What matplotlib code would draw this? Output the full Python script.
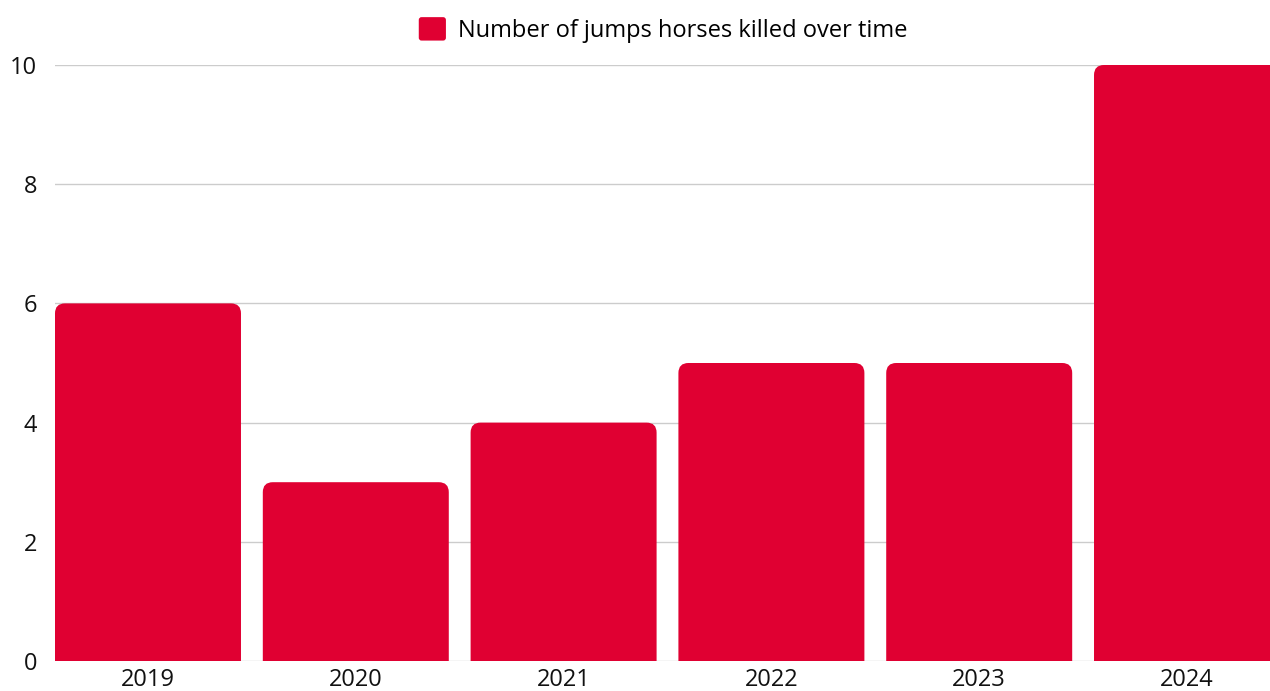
import matplotlib.pyplot as plt
from matplotlib.path import Path
from matplotlib.patches import PathPatch, FancyBboxPatch
from matplotlib.legend_handler import HandlerPatch
import numpy as np

plt.rcParams['font.family'] = ['Open Sans', 'DejaVu Sans']

# Data
years = ['2019', '2020', '2021', '2022', '2023', '2024']
deaths = [6, 3, 4, 5, 5, 10]
label = 'Number of jumps horses killed over time'

red = '#E00032'
bar_w = 0.895

# axes run a little past the right edge of the figure, so the last bar is clipped
fig = plt.figure(figsize=(12.7, 6.91), dpi=100)
ax = fig.add_axes([55 / 1270, 30 / 691, 1225 / 1270, (661 - 65) / 691])
ax.set_xlim(-bar_w / 2, len(years) - 1 + bar_w / 2)
ax.set_ylim(0, 10)

# corner radius in pixels -> data units
fig.canvas.draw()
bbox = ax.get_window_extent()
rx = 10 * (ax.get_xlim()[1] - ax.get_xlim()[0]) / bbox.width
ry = 10 * 10 / bbox.height


def rounded_bar(x0, w, h):
    x1 = x0 + w
    verts = [(x0, 0), (x0, h - ry), (x0, h), (x0 + rx, h),
             (x1 - rx, h), (x1, h), (x1, h - ry), (x1, 0), (x0, 0)]
    codes = [Path.MOVETO, Path.LINETO, Path.CURVE3, Path.CURVE3,
             Path.LINETO, Path.CURVE3, Path.CURVE3, Path.LINETO, Path.CLOSEPOLY]
    return Path(verts, codes)


xs = np.arange(len(years))
for x, v in zip(xs, deaths):
    ax.add_patch(PathPatch(rounded_bar(x - bar_w / 2, bar_w, v),
                           facecolor=red, edgecolor='none', zorder=3))

ax.set_yticks(range(0, 11, 2))
ax.set_xticks(xs)
ax.set_xticklabels(years)
ax.grid(axis='y', color='#cccccc', linewidth=1, zorder=0)
ax.set_axisbelow(True)
for s in ax.spines.values():
    s.set_visible(False)
ax.tick_params(axis='both', length=0, labelsize=17, colors='#111111')
ax.tick_params(axis='y', pad=13)
ax.tick_params(axis='x', pad=5)


class HandlerRound(HandlerPatch):
    def create_artists(self, legend, orig_handle, xdescent, ydescent,
                       width, height, fontsize, trans):
        p = FancyBboxPatch((-xdescent, -ydescent), width, height,
                           boxstyle='round,pad=0,rounding_size=2',
                           facecolor=red, edgecolor='none', transform=trans)
        return [p]


handle = FancyBboxPatch((0, 0), 1, 1, facecolor=red)
fig.legend([handle], [label], loc='center', bbox_to_anchor=(663 / 1270, 1 - 30 / 691),
           frameon=False, fontsize=17, handlelength=1.15, handleheight=1.15,
           handletextpad=0.5, handler_map={FancyBboxPatch: HandlerRound()})

fig.savefig('out.png', dpi=100)
